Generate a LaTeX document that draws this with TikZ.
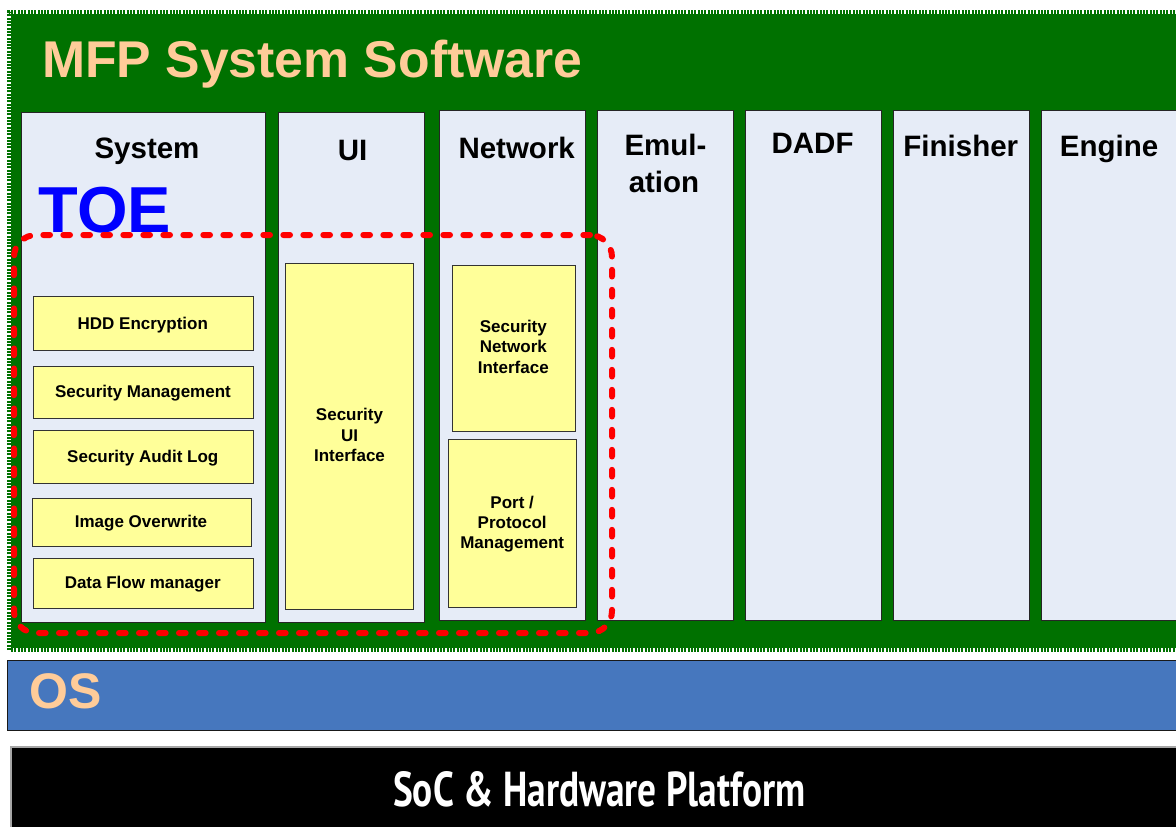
\documentclass[tikz,border=0pt]{standalone}
\usepackage{fontspec}
\setmainfont{Liberation Sans}
\newfontfamily\ptsansfont{PT Sans}
\usepackage{graphicx}
\definecolor{mfpgreen}{RGB}{0,113,0}
\definecolor{colblue}{RGB}{230,236,247}
\definecolor{ylw}{RGB}{255,255,153}
\definecolor{peach}{RGB}{255,204,153}
\definecolor{osblue}{RGB}{70,119,190}
\newcommand\myfs[1]{\fontsize{#1}{#1}\selectfont}
\tikzset{
  box/.style 2 args={minimum width=#1pt, minimum height=#2pt, anchor=north west, inner sep=0pt, outer sep=0pt},
  col/.style={fill=colblue, draw=black!85, line width=1pt},
  ybox/.style={fill=ylw, draw=black!80, line width=1pt},
  hdr/.style={font=\myfs{29.5}\bfseries, anchor=base, inner sep=0pt},
  lbl/.style={font=\myfs{17}\bfseries, anchor=base, inner sep=0pt},
  toebox/.style={draw=red, line width=6pt, line cap=round, dash pattern=on 6.7pt off 13.3pt, rounded corners=22pt},
  edgedots/.style={draw=mfpgreen, line width=4pt, dash pattern=on 2pt off 1.3pt},
}
\begin{document}
\begin{tikzpicture}[x=1pt,y=-1pt]
\useasboundingbox (0,0) rectangle (1176,827);
\clip (0,0) rectangle (1176,827);
% green software area
\node[box={1169}{634}, fill=mfpgreen] (mfp) at (11,14) {};
\draw[edgedots] (9,650) -- (9,12) -- (1180,12);
\draw[edgedots] (11,650) -- (1180,650);
\node[font=\myfs{51.7}\bfseries, text=peach, anchor=base west, inner sep=0pt] (title) at (42,77) {MFP System Software};
% columns
\node[col, box={244}{510}] (sys) at (21,112) {};
\node[col, box={146}{510}] (ui) at (278,112) {};
\node[col, box={146}{510}] (net) at (439,110) {};
\node[col, box={136}{510}] (emu) at (597,110) {};
\node[col, box={136}{510}] (dadf) at (745,110) {};
\node[col, box={136}{510}] (fin) at (893,110) {};
\node[col, box={150}{510}] (eng) at (1041,110) {};
% headers
\node[hdr] (hsys) at (147,158) {System};
\node[hdr] (hui) at (352.5,160) {UI};
\node[hdr] (hnet) at (516.7,158) {Network};
\node[hdr] (hemu1) at (665.5,155) {Emul-};
\node[hdr] (hemu2) at (664,192.5) {ation};
\node[hdr] (hdadf) at (812.6,153.5) {DADF};
\node[hdr] (hfin) at (960.8,156) {Finisher};
\node[hdr] (heng) at (1109,156) {Engine};
% TOE label
\node[font=\myfs{65}\bfseries, text=blue, anchor=base west, inner sep=0pt] (toelbl) at (38.5,232) {TOE};
% system sub boxes
\node[ybox, box={220}{54}] (hdd) at (33,296) {};
\node[ybox, box={220}{52}] (secm) at (33,366) {};
\node[ybox, box={220}{53}] (aud) at (33,430) {};
\node[ybox, box={219}{48}] (img) at (32,498) {};
\node[ybox, box={220}{50}] (dfm) at (33,558) {};
\node[lbl] (thdd) at (142.8,329.3) {HDD Encryption};
\node[lbl] (tsecm) at (143,397.3) {Security Management};
\node[lbl] (taud) at (142.8,462.7) {Security Audit Log};
\node[lbl] (timg) at (141,527.3) {Image Overwrite};
\node[lbl] (tdfm) at (142.7,588.3) {Data Flow manager};
% UI sub box
\node[ybox, box={128}{346}] (suii) at (285,263) {};
\node[lbl] (tsui1) at (349.5,420.7) {Security};
\node[lbl] (tsui2) at (349.5,441.5) {UI};
\node[lbl] (tsui3) at (349.5,461.7) {Interface};
% network sub boxes
\node[ybox, box={123}{166}] (sni) at (452,265) {};
\node[lbl] (tsni1) at (513.3,332.7) {Security};
\node[lbl] (tsni2) at (513.3,352.7) {Network};
\node[lbl] (tsni3) at (513.3,373.3) {Interface};
\node[ybox, box={128}{168}] (ppm) at (448,439) {};
\node[lbl] (tppm1) at (512.2,508.3) {Port /};
\node[lbl] (tppm2) at (512.2,528.3) {Protocol};
\node[lbl] (tppm3) at (512.2,548.3) {Management};
% TOE boundary
\node[toebox, box={598}{398}] (toe) at (14,235) {};
% OS bar
\node[box={1180}{70}, fill=osblue, draw=black!90, line width=1pt] (os) at (7,660) {};
\node[font=\myfs{50}\bfseries, text=peach, anchor=base west, inner sep=0pt] (ostxt) at (29,708) {OS};
% SoC bar
\node[box={1180}{90}, fill=black, draw=black!35, line width=2pt] (soc) at (11,747) {};
\node[anchor=base west, inner sep=0pt, text=white] (soctxt) at (393,806.7) {\resizebox{412pt}{35pt}{\ptsansfont\bfseries SoC \& Hardware Platform}};
\end{tikzpicture}
\end{document}
